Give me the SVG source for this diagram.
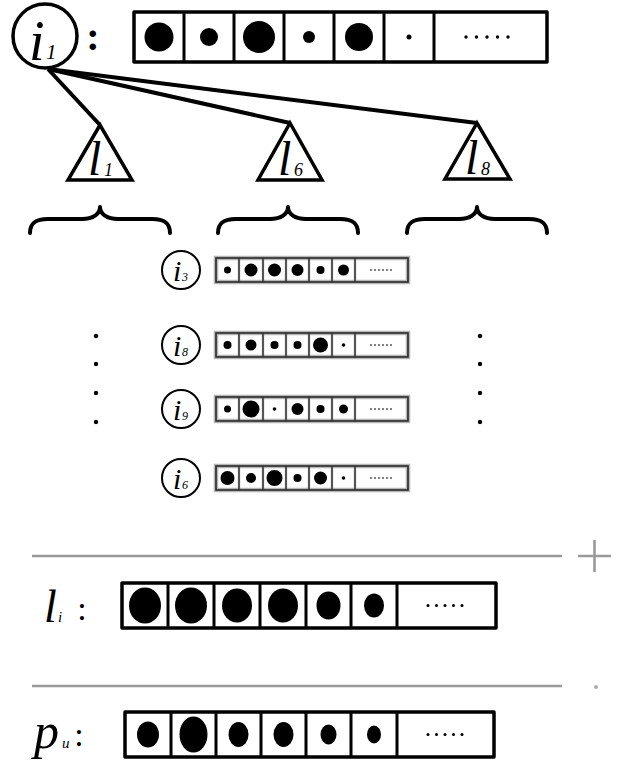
<svg xmlns="http://www.w3.org/2000/svg" width="618" height="771" viewBox="0 0 618 771">
<style>
.bx{fill:#fff;stroke:#000;stroke-width:3.5;stroke-linejoin:round}
.dv{stroke:#000;stroke-width:3}
.sbg{fill:#fff;stroke:#b5b5b5;stroke-width:4.5}
.sbx{fill:none;stroke:#2a2a2a;stroke-width:1.6}
.sdv{stroke:#555;stroke-width:2.2}
.nd{fill:#fff;stroke:#000;stroke-width:3.5}
.snd{fill:#fff;stroke:#000;stroke-width:2}
.tri{fill:#fff;stroke:#000;stroke-width:3.5;stroke-linejoin:miter}
.m{font-family:"Liberation Serif","DejaVu Serif",serif;font-style:italic;fill:#000}
.c{font-family:"Liberation Serif","DejaVu Serif",serif;fill:#000}
.br{fill:none;stroke:#000;stroke-width:4;stroke-linecap:round;stroke-linejoin:round}
.gl{stroke:#9a9a9a;stroke-width:2.6}
</style>

<g id="edges">
<line x1="48" y1="69" x2="100" y2="125" stroke="#000" stroke-width="4"/>
<line x1="48" y1="69" x2="290" y2="123" stroke="#000" stroke-width="4"/>
<line x1="48" y1="69" x2="477" y2="123" stroke="#000" stroke-width="4"/>
</g>

<g id="node-i1">
<circle class="nd" cx="45" cy="36" r="32"/>
<text class="m" x="29" y="60" font-size="56">i</text>
<text class="m" x="46" y="59" font-size="21">1</text>
</g>
<text class="c" x="93" y="50" font-size="40" text-anchor="middle" font-weight="bold">:</text>

<g id="array-i1">
<rect class="bx" x="134" y="12" width="413" height="50"/>
<path class="dv" d="M184 12V62M234 12V62M284 12V62M334 12V62M384 12V62M434 12V62"/>
<circle cx="159" cy="37" r="14.5"/>
<circle cx="209" cy="37" r="9"/>
<circle cx="259" cy="37" r="16"/>
<circle cx="309" cy="37" r="6"/>
<circle cx="359" cy="37" r="14"/>
<circle cx="409" cy="37" r="2.5"/>
<circle cx="466" cy="37" r="1.7"/><circle cx="476.5" cy="37" r="1.7"/><circle cx="487" cy="37" r="1.7"/><circle cx="497.5" cy="37" r="1.7"/><circle cx="508" cy="37" r="1.7"/>
</g>

<g id="node-l1">
<polygon class="tri" points="100,125 68,180 132,180"/>
<text class="m" x="88" y="175" font-size="48">l</text>
<text class="m" x="104" y="176" font-size="18">1</text>
</g>
<g id="node-l6">
<polygon class="tri" points="290,123 258,180 322,180"/>
<text class="m" x="278" y="175" font-size="48">l</text>
<text class="m" x="294" y="176" font-size="18">6</text>
</g>
<g id="node-l8">
<polygon class="tri" points="477,123 445,179 510,179"/>
<text class="m" x="465" y="174" font-size="48">l</text>
<text class="m" x="481" y="175" font-size="18">8</text>
</g>

<g id="braces">
<path class="br" d="M30 233C30 223 36 219 48 219L82 219C93 219 100 214 100 207C100 214 107 219 118 219L152 219C164 219 170 223 170 233"/>
<path class="br" d="M218 233C218 223 224 219 236 219L270 219C281 219 288 214 288 207C288 214 295 219 306 219L340 219C352 219 358 223 358 233"/>
<path class="br" d="M407 233C407 223 413 219 425 219L459 219C470 219 477 214 477 207C477 214 484 219 495 219L529 219C541 219 547 223 547 233"/>
</g>

<g id="row-i3">
<circle class="snd" cx="181" cy="270" r="19"/>
<text class="m" x="173" y="281" font-size="30">i</text>
<text class="m" x="182" y="281" font-size="12">3</text>
<rect class="sbg" x="216" y="258" width="192" height="24"/>
<path class="sdv" d="M239 258V282M263 258V282M286 258V282M309 258V282M332 258V282M355 258V282"/>
<rect class="sbx" x="216" y="258" width="192" height="24"/>
<circle cx="227.5" cy="270" r="3.5"/><circle cx="251" cy="270" r="6.5"/><circle cx="274.5" cy="270" r="6.5"/><circle cx="297.5" cy="270" r="6"/><circle cx="320.5" cy="270" r="4"/><circle cx="343.5" cy="270" r="5.5"/>
<g fill="#444"><circle cx="371" cy="270" r="0.9"/><circle cx="375" cy="270" r="0.9"/><circle cx="379" cy="270" r="0.9"/><circle cx="383" cy="270" r="0.9"/><circle cx="387" cy="270" r="0.9"/><circle cx="391" cy="270" r="0.9"/></g>
</g>

<g id="row-i8">
<circle class="snd" cx="181" cy="345" r="19"/>
<text class="m" x="173" y="356" font-size="30">i</text>
<text class="m" x="182" y="356" font-size="12">8</text>
<rect class="sbg" x="216" y="333" width="192" height="24"/>
<path class="sdv" d="M239 333V357M263 333V357M286 333V357M309 333V357M332 333V357M355 333V357"/>
<rect class="sbx" x="216" y="333" width="192" height="24"/>
<circle cx="227.5" cy="345" r="4"/><circle cx="251" cy="345" r="5.5"/><circle cx="274.5" cy="345" r="4"/><circle cx="297.5" cy="345" r="4"/><circle cx="320.5" cy="345" r="7.5"/><circle cx="343.5" cy="345" r="1.8"/>
<g fill="#444"><circle cx="371" cy="345" r="0.9"/><circle cx="375" cy="345" r="0.9"/><circle cx="379" cy="345" r="0.9"/><circle cx="383" cy="345" r="0.9"/><circle cx="387" cy="345" r="0.9"/><circle cx="391" cy="345" r="0.9"/></g>
</g>

<g id="row-i9">
<circle class="snd" cx="181" cy="409" r="19"/>
<text class="m" x="173" y="420" font-size="30">i</text>
<text class="m" x="182" y="420" font-size="12">9</text>
<rect class="sbg" x="216" y="397" width="192" height="24"/>
<path class="sdv" d="M239 397V421M263 397V421M286 397V421M309 397V421M332 397V421M355 397V421"/>
<rect class="sbx" x="216" y="397" width="192" height="24"/>
<circle cx="227.5" cy="409" r="3.5"/><circle cx="251" cy="409" r="8.5"/><circle cx="274.5" cy="409" r="1.8"/><circle cx="297.5" cy="409" r="6"/><circle cx="320.5" cy="409" r="4"/><circle cx="343.5" cy="409" r="4.5"/>
<g fill="#444"><circle cx="371" cy="409" r="0.9"/><circle cx="375" cy="409" r="0.9"/><circle cx="379" cy="409" r="0.9"/><circle cx="383" cy="409" r="0.9"/><circle cx="387" cy="409" r="0.9"/><circle cx="391" cy="409" r="0.9"/></g>
</g>

<g id="row-i6">
<circle class="snd" cx="181" cy="478" r="19"/>
<text class="m" x="173" y="489" font-size="30">i</text>
<text class="m" x="182" y="489" font-size="12">6</text>
<rect class="sbg" x="216" y="466" width="192" height="24"/>
<path class="sdv" d="M239 466V490M263 466V490M286 466V490M309 466V490M332 466V490M355 466V490"/>
<rect class="sbx" x="216" y="466" width="192" height="24"/>
<circle cx="227.5" cy="478" r="7"/><circle cx="251" cy="478" r="5"/><circle cx="274.5" cy="478" r="8"/><circle cx="297.5" cy="478" r="4"/><circle cx="320.5" cy="478" r="6.5"/><circle cx="343.5" cy="478" r="1.8"/>
<g fill="#444"><circle cx="371" cy="478" r="0.9"/><circle cx="375" cy="478" r="0.9"/><circle cx="379" cy="478" r="0.9"/><circle cx="383" cy="478" r="0.9"/><circle cx="387" cy="478" r="0.9"/><circle cx="391" cy="478" r="0.9"/></g>
</g>

<g id="vdots">
<circle cx="96" cy="336" r="2.2"/><circle cx="96" cy="364" r="2.2"/><circle cx="96" cy="393" r="2.2"/><circle cx="96" cy="422" r="2.2"/>
<circle cx="480" cy="336" r="2.2"/><circle cx="480" cy="364" r="2.2"/><circle cx="480" cy="393" r="2.2"/><circle cx="480" cy="422" r="2.2"/>
</g>

<g id="separators">
<line class="gl" x1="32" y1="556" x2="562" y2="556"/>
<path class="gl" d="M578 556H611M594.5 540V572" fill="none"/>
<line class="gl" x1="32" y1="686" x2="562" y2="686"/>
<circle cx="596" cy="687" r="2" fill="#aaa"/>
</g>

<g id="row-li">
<text class="m" x="44" y="622" font-size="46">l</text>
<text class="m" x="58" y="622" font-size="15">i</text>
<text class="c" x="82" y="620" font-size="34" text-anchor="middle">:</text>
<rect class="bx" x="122" y="583" width="374" height="45"/>
<path class="dv" d="M168 583V628M214 583V628M260 583V628M306 583V628M351 583V628M397 583V628"/>
<ellipse cx="145" cy="605.5" rx="16" ry="18"/>
<ellipse cx="191" cy="605.5" rx="16" ry="18"/>
<ellipse cx="237" cy="605.5" rx="15" ry="17"/>
<ellipse cx="283" cy="605.5" rx="15" ry="17"/>
<ellipse cx="328.5" cy="605.5" rx="12" ry="14"/>
<ellipse cx="374" cy="605.5" rx="10" ry="12"/>
<circle cx="428" cy="605.5" r="1.5"/><circle cx="436.5" cy="605.5" r="1.5"/><circle cx="445" cy="605.5" r="1.5"/><circle cx="453.5" cy="605.5" r="1.5"/><circle cx="462" cy="605.5" r="1.5"/>
</g>

<g id="row-pu">
<text class="m" x="34" y="748" font-size="50">p</text>
<text class="m" x="62" y="748" font-size="15">u</text>
<text class="c" x="79" y="746" font-size="34" text-anchor="middle">:</text>
<rect class="bx" x="125" y="712" width="369" height="45"/>
<path class="dv" d="M171 712V757M216 712V757M261 712V757M306 712V757M351 712V757M397 712V757"/>
<ellipse cx="148" cy="734.5" rx="11" ry="13"/>
<ellipse cx="193.5" cy="734.5" rx="14" ry="18"/>
<ellipse cx="238.5" cy="734.5" rx="10" ry="12.5"/>
<ellipse cx="283.5" cy="734.5" rx="10" ry="12.5"/>
<ellipse cx="328.5" cy="734.5" rx="8" ry="10"/>
<ellipse cx="374" cy="734.5" rx="7" ry="9"/>
<circle cx="428" cy="734.5" r="1.5"/><circle cx="436.5" cy="734.5" r="1.5"/><circle cx="445" cy="734.5" r="1.5"/><circle cx="453.5" cy="734.5" r="1.5"/><circle cx="462" cy="734.5" r="1.5"/>
</g>
</svg>
